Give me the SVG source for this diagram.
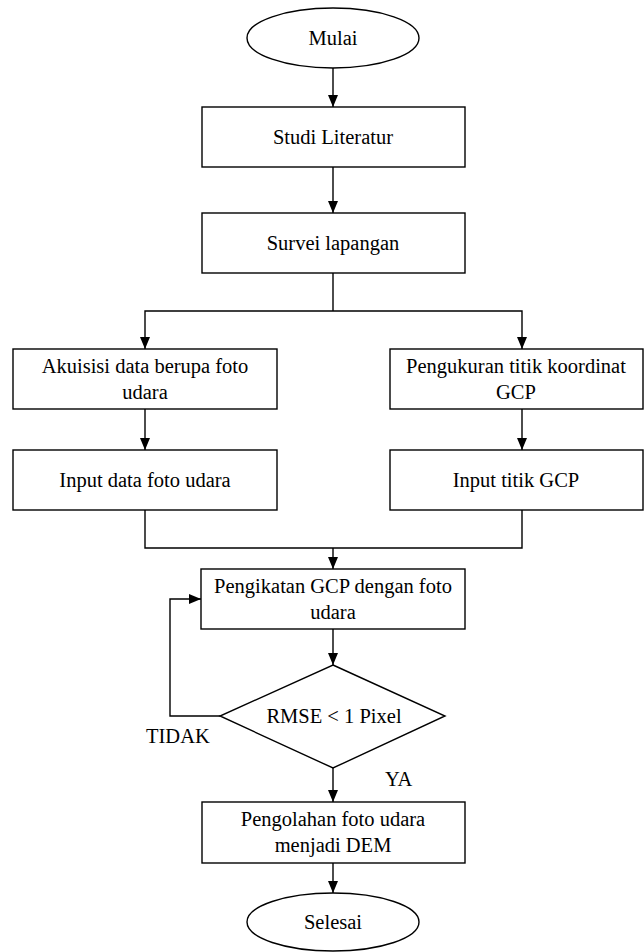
<svg xmlns="http://www.w3.org/2000/svg" width="644" height="952" viewBox="0 0 644 952">
<style>
.box{fill:#fff;stroke:#000;stroke-width:1.4}
.ln{fill:none;stroke:#000;stroke-width:1.4}
.arr{marker-end:url(#ah)}
text{font-family:'Liberation Serif','Times New Roman','DejaVu Serif',Times,serif;font-size:20.5px;fill:#000}
.c{text-anchor:middle}
</style>
<defs>
<marker id="ah" viewBox="0 0 12 10" refX="12" refY="5" markerWidth="12" markerHeight="10" orient="auto" markerUnits="userSpaceOnUse">
<path d="M0,0 L12,5 L0,10 z" fill="#000"/>
</marker>
</defs>
<rect width="644" height="952" fill="#fff"/>
<g id="connectors">
<line class="ln arr" x1="333" y1="68" x2="333" y2="107"/>
<line class="ln arr" x1="333" y1="167" x2="333" y2="213"/>
<polyline class="ln" points="333,273 333,311"/>
<polyline class="ln arr" points="333,311 145,311 145,349"/>
<polyline class="ln arr" points="333,311 522,311 522,349"/>
<line class="ln arr" x1="145" y1="409" x2="145" y2="450"/>
<line class="ln arr" x1="522" y1="409" x2="522" y2="450"/>
<polyline class="ln" points="145,510 145,548 522,548 522,510"/>
<line class="ln arr" x1="333" y1="548" x2="333" y2="569"/>
<line class="ln arr" x1="333" y1="629" x2="333" y2="665"/>
<polyline class="ln arr" points="220,716 170,716 170,599 201,599"/>
<line class="ln arr" x1="333" y1="768" x2="333" y2="802"/>
<line class="ln arr" x1="333" y1="863" x2="333" y2="893"/>
<text x="146" y="743" font-family="Liberation Serif, serif">TIDAK</text>
<text x="385" y="786" font-family="Liberation Serif, serif">YA</text>
</g>
<g id="mulai">
<ellipse class="box" cx="333" cy="38" rx="86" ry="30"/>
<text class="c" x="333" y="45">Mulai</text>
</g>
<g id="studi">
<rect class="box" x="202" y="107" width="263" height="60"/>
<text class="c" x="333" y="144">Studi Literatur</text>
</g>
<g id="survei">
<rect class="box" x="202" y="213" width="263" height="60"/>
<text class="c" x="333" y="250">Survei lapangan</text>
</g>
<g id="akuisisi">
<rect class="box" x="13" y="349" width="264" height="60"/>
<text class="c" x="145" y="373">Akuisisi data berupa foto</text>
<text class="c" x="145" y="399">udara</text>
</g>
<g id="pengukuran">
<rect class="box" x="390" y="349" width="253" height="60"/>
<text class="c" x="516" y="373">Pengukuran titik koordinat</text>
<text class="c" x="516" y="399">GCP</text>
</g>
<g id="input-foto">
<rect class="box" x="13" y="450" width="264" height="60"/>
<text class="c" x="145" y="487">Input data foto udara</text>
</g>
<g id="input-gcp">
<rect class="box" x="390" y="450" width="253" height="60"/>
<text class="c" x="516" y="487">Input titik GCP</text>
</g>
<g id="pengikatan">
<rect class="box" x="201" y="569" width="264" height="60"/>
<text class="c" x="333" y="593">Pengikatan GCP dengan foto</text>
<text class="c" x="333" y="619">udara</text>
</g>
<g id="rmse">
<polygon class="box" points="333,665 445,716 333,768 220,716"/>
<text class="c" x="334" y="723">RMSE &lt; 1 Pixel</text>
</g>
<g id="pengolahan">
<rect class="box" x="202" y="802" width="263" height="61"/>
<text class="c" x="333" y="826">Pengolahan foto udara</text>
<text class="c" x="333" y="852">menjadi DEM</text>
</g>
<g id="selesai">
<ellipse class="box" cx="333" cy="922" rx="86" ry="29"/>
<text class="c" x="333" y="929">Selesai</text>
</g>
</svg>
